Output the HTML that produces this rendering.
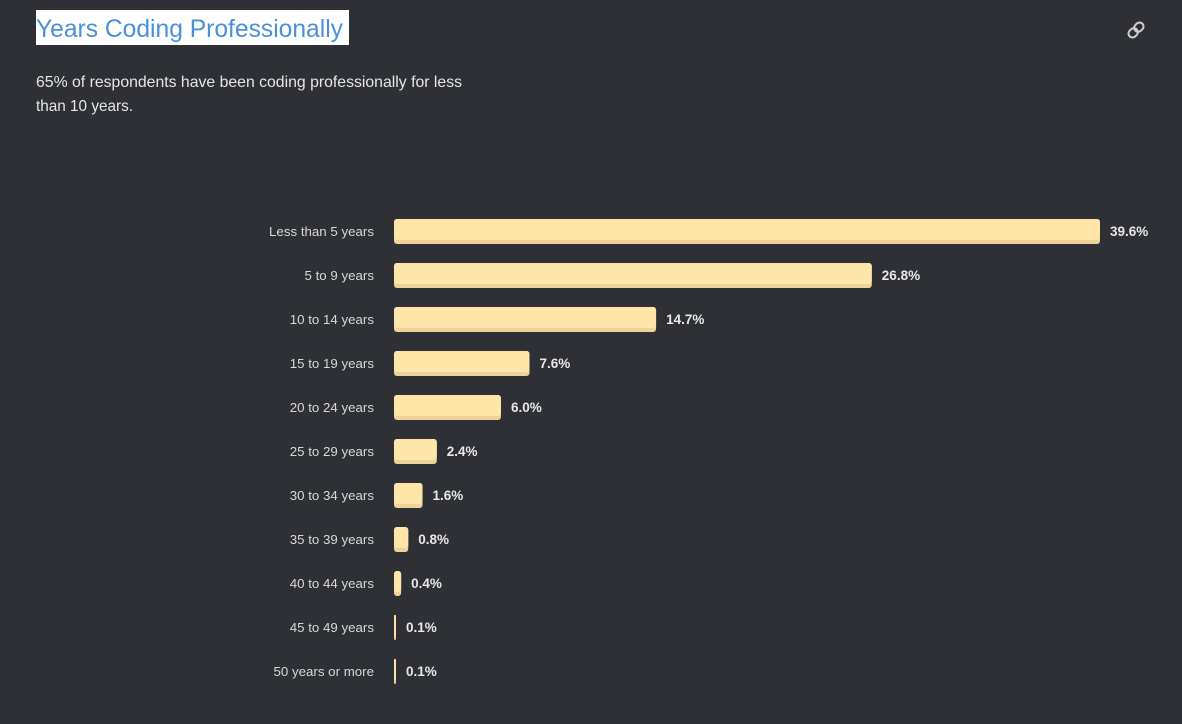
<!DOCTYPE html>
<html><head><meta charset="utf-8"><style>
html,body{margin:0;background:#2e3035;width:1182px;height:724px;overflow:hidden;font-family:"Liberation Sans",sans-serif}
svg{display:block}
</style></head><body>
<svg id="chart" width="1182" height="724" xmlns="http://www.w3.org/2000/svg">
<rect x="0" y="0" width="1182" height="724" fill="#2e3035"/>
<rect x="36" y="10" width="313" height="35" fill="#ffffff"/>
<text x="36" y="37" font-size="25" fill="#4a90d9" textLength="307" lengthAdjust="spacingAndGlyphs">Years Coding Professionally</text>
<text x="36" y="87" font-size="16" fill="#e6e6e6" textLength="426" lengthAdjust="spacingAndGlyphs">65% of respondents have been coding professionally for less</text>
<text x="36" y="111" font-size="16" fill="#e6e6e6" textLength="97" lengthAdjust="spacingAndGlyphs">than 10 years.</text>
<g transform="translate(1136,30) rotate(-45)" fill="none" stroke="#cfcfcf" stroke-width="2">
<rect x="-9" y="-4" width="10" height="8" rx="4"/><rect x="-1" y="-4" width="10" height="8" rx="4"/>
</g>
<g id="bars"></g>
</svg>
<script>
const categories=["Less than 5 years","5 to 9 years","10 to 14 years","15 to 19 years","20 to 24 years","25 to 29 years","30 to 34 years","35 to 39 years","40 to 44 years","45 to 49 years","50 years or more"];
const values=[39.6,26.8,14.7,7.6,6.0,2.4,1.6,0.8,0.4,0.1,0.1];
const valueLabels=["39.6%","26.8%","14.7%","7.6%","6.0%","2.4%","1.6%","0.8%","0.4%","0.1%","0.1%"];
const NS="http://www.w3.org/2000/svg";
const x0=394,pxPer=706/39.6;
function xScale(v){return Math.max(2,v*pxPer);}
function yScale(i){return 219+i*44;}
const g=document.getElementById('bars');
categories.forEach((c,i)=>{
  const y=yScale(i),w=xScale(values[i]);
  const lab=document.createElementNS(NS,'text');
  
  
  lab.setAttribute('x',374);lab.setAttribute('y',y+17);lab.setAttribute('text-anchor','end');
  lab.setAttribute('font-size','13.3');lab.setAttribute('fill','#d8d8d8');
  lab.textContent=c;g.appendChild(lab);
  const sh=document.createElementNS(NS,'rect');
  
  
  sh.setAttribute('x',x0);sh.setAttribute('y',y);sh.setAttribute('width',w);sh.setAttribute('height',25);
  sh.setAttribute('rx',Math.min(3,w/2));sh.setAttribute('fill','#ecd49a');g.appendChild(sh);
  const b=document.createElementNS(NS,'rect');
  
  
  b.setAttribute('x',x0);b.setAttribute('y',y);b.setAttribute('width',w);b.setAttribute('height',21);
  b.setAttribute('rx',Math.min(3,w/2));b.setAttribute('fill','#ffe6a8');g.appendChild(b);
  const vl=document.createElementNS(NS,'text');
  
  
  vl.setAttribute('x',x0+w+10);vl.setAttribute('y',y+17);
  vl.setAttribute('font-size','13.5');vl.setAttribute('font-weight','bold');vl.setAttribute('fill','#e8e8e8');
  vl.textContent=valueLabels[i];g.appendChild(vl);
});
</script>
</body></html>
